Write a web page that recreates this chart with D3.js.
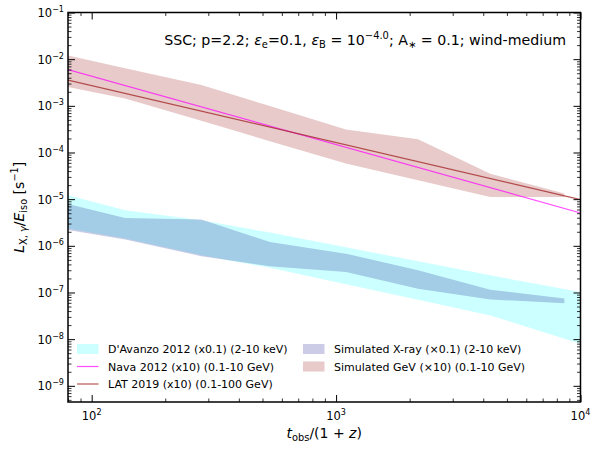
<!DOCTYPE html>
<html>
<head>
<meta charset="utf-8">
<script src="https://cdnjs.cloudflare.com/ajax/libs/d3/7.8.5/d3.min.js"></script>
<style>
  body { margin: 0; background: #fff; }
  svg { font-family: "DejaVu Sans", sans-serif; }
</style>
</head>
<body>
<script>
// simulated bands, sampled at these times
const simT   = [79, 137, 281, 536, 1097, 2164, 4275, 8590];
const gevHi  = [1.22e-2, 6.4e-3, 2.78e-3, 9.9e-4, 3.1e-4, 1.93e-4, 3.5e-5, 1.32e-5];
const gevLo  = [2.56e-3, 1.44e-3, 4.78e-4, 1.75e-4, 5.8e-5, 2.55e-5, 1.11e-5, 1.11e-5];
const xrayHi = [8.05e-6, 3.95e-6, 3.65e-6, 1.21e-6, 6.8e-7, 2.98e-7, 1.15e-7, 7.4e-8];
const xrayLo = [2.22e-6, 1.36e-6, 6.0e-7, 3.63e-7, 2.74e-7, 1.21e-7, 7.1e-8, 5.9e-8];

// D'Avanzo 2012 X-ray band
const davT  = [80, 137, 281, 536, 1097, 2164, 4275, 10000];
const davHi = [1.21e-5, 5.78e-6, 3.52e-6, 1.92e-6, 9.3e-7, 4.65e-7, 2.33e-7, 1.02e-7];
const davLo = [2.34e-6, 1.43e-6, 6.25e-7, 3.4e-7, 1.51e-7, 7.0e-8, 3.23e-8, 7.96e-9];

// power-law lines
const navaT = [80, 10000];
const navaV = [6.0e-3, 5.06e-6];
const latT  = [80, 10000];
const latV  = [3.56e-3, 9.8e-6];

const xTickExps = [2, 3, 4];
const yTickExps = [-1, -2, -3, -4, -5, -6, -7, -8, -9];

const W = 599, H = 451;
const L = 68, R = 580.5, T = 12.5, B = 402;

const x = d3.scaleLog().domain([80, 1e4]).range([L, R]);
const y = d3.scaleLog().domain([4.5e-10, 0.1]).range([B, T]);

const svg = d3.select("body").append("svg")
  .attr("width", W).attr("height", H);

// text with italic / sub / sup pieces
function rich(text, segs, size) {
  let cur = 0;
  segs.forEach(s => {
    const kind = s[1] || "n";
    let off = 0, fs = size;
    if (kind === "sub") { off = 0.22 * size; fs = size * 0.7; }
    if (kind === "sup") { off = -0.42 * size; fs = size * 0.7; }
    const ts = text.append("tspan")
      .attr("dy", off - cur)
      .attr("font-size", fs)
      .text(s[0]);
    if (s[2] === "i") ts.attr("font-style", "italic");
    cur = off;
  });
  return text;
}

const plot = svg.append("g");

const area = (ts, lo, hi) => d3.area()
  .x((d, i) => x(ts[i]))
  .y0((d, i) => y(lo[i]))
  .y1((d, i) => y(hi[i]))(ts);

const line = (ts, vs) => d3.line()
  .x((d, i) => x(ts[i]))
  .y((d, i) => y(vs[i]))(ts);

const cCyan = "rgba(0,255,255,0.2)";
const cNavy = "rgba(0,0,128,0.2)";
const cGev  = "rgba(165,42,42,0.25)";
const cNava = "rgba(255,0,255,0.7)";
const cLat  = "rgba(165,42,42,0.8)";

svg.append("clipPath").attr("id", "clip")
  .append("rect").attr("x", L).attr("y", T).attr("width", R - L).attr("height", B - T);
plot.attr("clip-path", "url(#clip)");

plot.append("path").attr("d", area(davT, davLo, davHi)).attr("fill", cCyan);
plot.append("path").attr("d", area(simT, xrayLo, xrayHi)).attr("fill", cNavy);
plot.append("path").attr("d", area(simT, gevLo, gevHi)).attr("fill", cGev);
plot.append("path").attr("d", line(navaT, navaV)).attr("fill", "none")
  .attr("stroke", cNava).attr("stroke-width", 1.2);
plot.append("path").attr("d", line(latT, latV)).attr("fill", "none")
  .attr("stroke", cLat).attr("stroke-width", 1.2);

// ticks
const xMajor = xTickExps.map(e => Math.pow(10, e));
const xMinor = [];
for (let e = 1; e < 4; e++) for (let k = 2; k < 10; k++) {
  const v = k * Math.pow(10, e);
  if (v >= 80 && v <= 1e4 && v !== 100 && v !== 1000) xMinor.push(v);
}
const yMajor = yTickExps.map(e => Math.pow(10, e));
const yMinor = [];
for (let e = -10; e < -1; e++) for (let k = 2; k < 10; k++) {
  const v = k * Math.pow(10, e);
  if (v >= 4.5e-10 && v <= 0.1) yMinor.push(v);
}

function tickAxis(axisFn, scale, vals, len, tr) {
  const g = svg.append("g").attr("transform", tr)
    .call(axisFn(scale).tickValues(vals).tickSize(-len).tickFormat(""));
  g.select(".domain").remove();
  g.selectAll("line").attr("stroke", "#000").attr("stroke-width", len > 5 ? 1 : 0.8);
}
tickAxis(d3.axisBottom, x, xMajor, 7, `translate(0,${B})`);
tickAxis(d3.axisBottom, x, xMinor, 3.5, `translate(0,${B})`);
tickAxis(d3.axisTop, x, xMajor, 7, `translate(0,${T})`);
tickAxis(d3.axisTop, x, xMinor, 3.5, `translate(0,${T})`);
tickAxis(d3.axisLeft, y, yMajor, 7, `translate(${L},0)`);
tickAxis(d3.axisLeft, y, yMinor, 3.5, `translate(${L},0)`);
tickAxis(d3.axisRight, y, yMajor, 7, `translate(${R},0)`);
tickAxis(d3.axisRight, y, yMinor, 3.5, `translate(${R},0)`);

// frame
svg.append("rect").attr("x", L).attr("y", T).attr("width", R - L).attr("height", B - T)
  .attr("fill", "none").attr("stroke", "#000").attr("stroke-width", 1.5);

// tick labels
const fsTick = 11.5;
xTickExps.forEach(e => {
  const t = svg.append("text").attr("x", x(Math.pow(10, e))).attr("y", 420)
    .attr("text-anchor", "middle").attr("font-size", fsTick);
  rich(t, [["10"], [String(e), "sup"]], fsTick);
});
yTickExps.forEach(e => {
  const t = svg.append("text").attr("x", 64).attr("y", y(Math.pow(10, e)) + 4.5)
    .attr("text-anchor", "end").attr("font-size", fsTick);
  rich(t, [["10"], ["\u2212" + Math.abs(e), "sup"]], fsTick);
});

// axis labels
const fsLab = 14;
rich(svg.append("text").attr("x", (L + R) / 2).attr("y", 438)
  .attr("text-anchor", "middle").attr("font-size", fsLab),
  [["t", "n", "i"], ["obs", "sub"], ["/(1 + "], ["z", "n", "i"], [")"]], fsLab);

rich(svg.append("text").attr("transform", `translate(24,${(T + B) / 2}) rotate(-90)`)
  .attr("text-anchor", "middle").attr("font-size", fsLab),
  [["L", "n", "i"], ["X, ", "sub"], ["\u03b3", "sub", "i"], ["/"], ["E", "n", "i"], ["iso", "sub"],
   [" [s"], ["\u22121", "sup"], ["]"]], fsLab);

// annotation
const fsAnn = 14.2;
rich(svg.append("text").attr("x", 566).attr("y", 45)
  .attr("text-anchor", "end").attr("font-size", fsAnn),
  [["SSC; p=2.2; "], ["\u03b5", "n", "i"], ["e", "sub"], ["=0.1, "], ["\u03b5", "n", "i"], ["B", "sub"],
   [" = 10"], ["\u22124.0", "sup"], ["; A"], ["\u2217", "sub"], [" = 0.1; wind-medium"]], fsAnn);

// legend
const fsLeg = 11;
const legend = [
  { label: "D'Avanzo 2012 (x0.1) (2-10 keV)", kind: "patch", color: cCyan, col: 0, row: 0 },
  { label: "Nava 2012 (x10) (0.1-10 GeV)", kind: "line", color: cNava, col: 0, row: 1 },
  { label: "LAT 2019 (x10) (0.1-100 GeV)", kind: "line", color: cLat, col: 0, row: 2 },
  { label: "Simulated X-ray (\u00d70.1) (2-10 keV)", kind: "patch", color: cNavy, col: 1, row: 0 },
  { label: "Simulated GeV (\u00d710) (0.1-10 GeV)", kind: "patch", color: cGev, col: 1, row: 1 }
];
const colX = [77, 303];
legend.forEach(d => {
  const x0 = colX[d.col], yc = 349 + d.row * 17.5;
  if (d.kind === "patch") {
    svg.append("rect").attr("x", x0).attr("y", yc - 5).attr("width", 21.5).attr("height", 10)
      .attr("fill", d.color);
  } else {
    svg.append("line").attr("x1", x0).attr("x2", x0 + 21.5).attr("y1", yc).attr("y2", yc)
      .attr("stroke", d.color).attr("stroke-width", 1.2);
  }
  svg.append("text").attr("x", x0 + 31).attr("y", yc + 4).attr("font-size", fsLeg)
    .text(d.label);
});
</script>
</body>
</html>
